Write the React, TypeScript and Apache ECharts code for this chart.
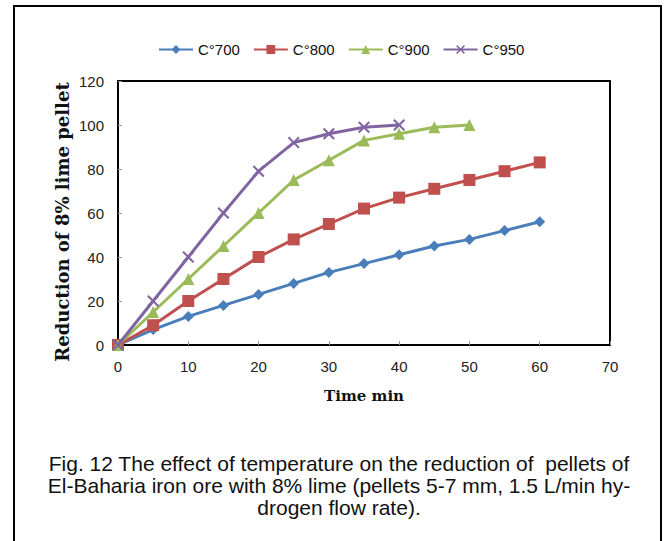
import React, { useEffect, useRef } from "react";
import * as echarts from "echarts";

const seriesNames = ["C°700", "C°800", "C°900", "C°950"];
const timeMin = [0, 5, 10, 15, 20, 25, 30, 35, 40, 45, 50, 55, 60];
const reduction700 = [0, 7, 13, 18, 23, 28, 33, 37, 41, 45, 48, 52, 56];
const reduction800 = [0, 9, 20, 30, 40, 48, 55, 62, 67, 71, 75, 79, 83];
const reduction900 = [0, 15, 30, 45, 60, 75, 84, 93, 96, 99, 100];
const reduction950 = [0, 20, 40, 60, 79, 92, 96, 99, 100];
const captionLines = [
  "Fig. 12 The effect of temperature on the reduction of  pellets of",
  "El-Baharia iron ore with 8% lime (pellets 5-7 mm, 1.5 L/min hy-",
  "drogen flow rate).",
];
const yAxisTitle = "Reduction of 8% lime pellet";
const xAxisTitle = "Time min";

const colors = ["#4A7EBB", "#C0504D", "#9BBB59", "#8064A2"];
const xSymbol =
  "path://M0,1.2 L1.2,0 L5,3.8 L8.8,0 L10,1.2 L6.2,5 L10,8.8 L8.8,10 L5,6.2 L1.2,10 L0,8.8 L3.8,5 Z";

function pairs(vals: number[]) {
  return vals.map((v, i) => [timeMin[i], v]);
}

export default function App() {
  const ref = useRef<HTMLDivElement>(null);
  useEffect(() => {
    if (!ref.current) return;
    const chart = echarts.init(ref.current, undefined, { renderer: "svg" });
    const allData = [reduction700, reduction800, reduction900, reduction950];
    const symbols = ["diamond", "rect", "triangle", xSymbol];
    const sizes = [11, 12, 12, 12];
    chart.setOption({
      animation: false,
      backgroundColor: "#fff",
      legend: {
        left: 153,
        top: 37,
        itemWidth: 34,
        itemHeight: 11,
        itemGap: 13,
        textStyle: { fontFamily: "Liberation Sans, Arial", fontSize: 15, color: "#111" },
        data: seriesNames,
      },
      grid: {
        left: 118,
        top: 81,
        right: 55,
        bottom: 196,
        show: true,
        borderColor: "#000",
        borderWidth: 2,
      },
      xAxis: {
        type: "value",
        min: 0,
        max: 70,
        interval: 10,
        name: xAxisTitle,
        nameLocation: "middle",
        nameGap: 43,
        nameTextStyle: {
          fontFamily: "DejaVu Serif",
          fontWeight: "bold",
          fontSize: 15,
          color: "#111",
        },
        axisLine: { lineStyle: { color: "#000", width: 2 } },
        axisTick: { inside: true, length: 4, lineStyle: { color: "#999" } },
        axisLabel: { fontFamily: "Liberation Sans, Arial", fontSize: 15, color: "#222", margin: 14 },
        splitLine: { show: false },
      },
      yAxis: {
        type: "value",
        min: 0,
        max: 120,
        interval: 20,
        axisLine: { show: true, lineStyle: { color: "#000", width: 2 } },
        axisTick: { show: true, inside: true, length: 4, lineStyle: { color: "#999" } },
        axisLabel: { fontFamily: "Liberation Sans, Arial", fontSize: 15, color: "#222", margin: 14 },
        splitLine: { show: false },
      },
      graphic: [
        {
          type: "rect",
          shape: { x: 14, y: 6, width: 647, height: 560 },
          style: { fill: "none", stroke: "#000", lineWidth: 2 },
          silent: true,
        },
        {
          type: "text",
          x: 62,
          y: 222,
          rotation: Math.PI / 2,
          style: {
            text: yAxisTitle,
            font: "bold 18px 'DejaVu Serif'",
            fill: "#111",
            align: "center",
            verticalAlign: "middle",
          },
        },
        ...captionLines.map((t, i) => ({
          type: "text",
          x: 339,
          y: 463 + i * 22,
          style: {
            text: t,
            font: "21px 'Liberation Sans', Arial",
            fill: "#111",
            align: "center",
            verticalAlign: "middle",
          },
        })),
      ],
      series: allData.map((d, i) => ({
        name: seriesNames[i],
        type: "line",
        data: pairs(d),
        symbol: symbols[i],
        symbolSize: sizes[i],
        showAllSymbol: true,
        itemStyle: { color: colors[i] },
        lineStyle: { color: colors[i], width: 3 },
        z: 2 + i,
      })),
    });
    return () => chart.dispose();
  }, []);
  return (
    <div
      ref={ref}
      style={{ position: "fixed", left: 0, top: 0, width: 665, height: 541 }}
    />
  );
}
